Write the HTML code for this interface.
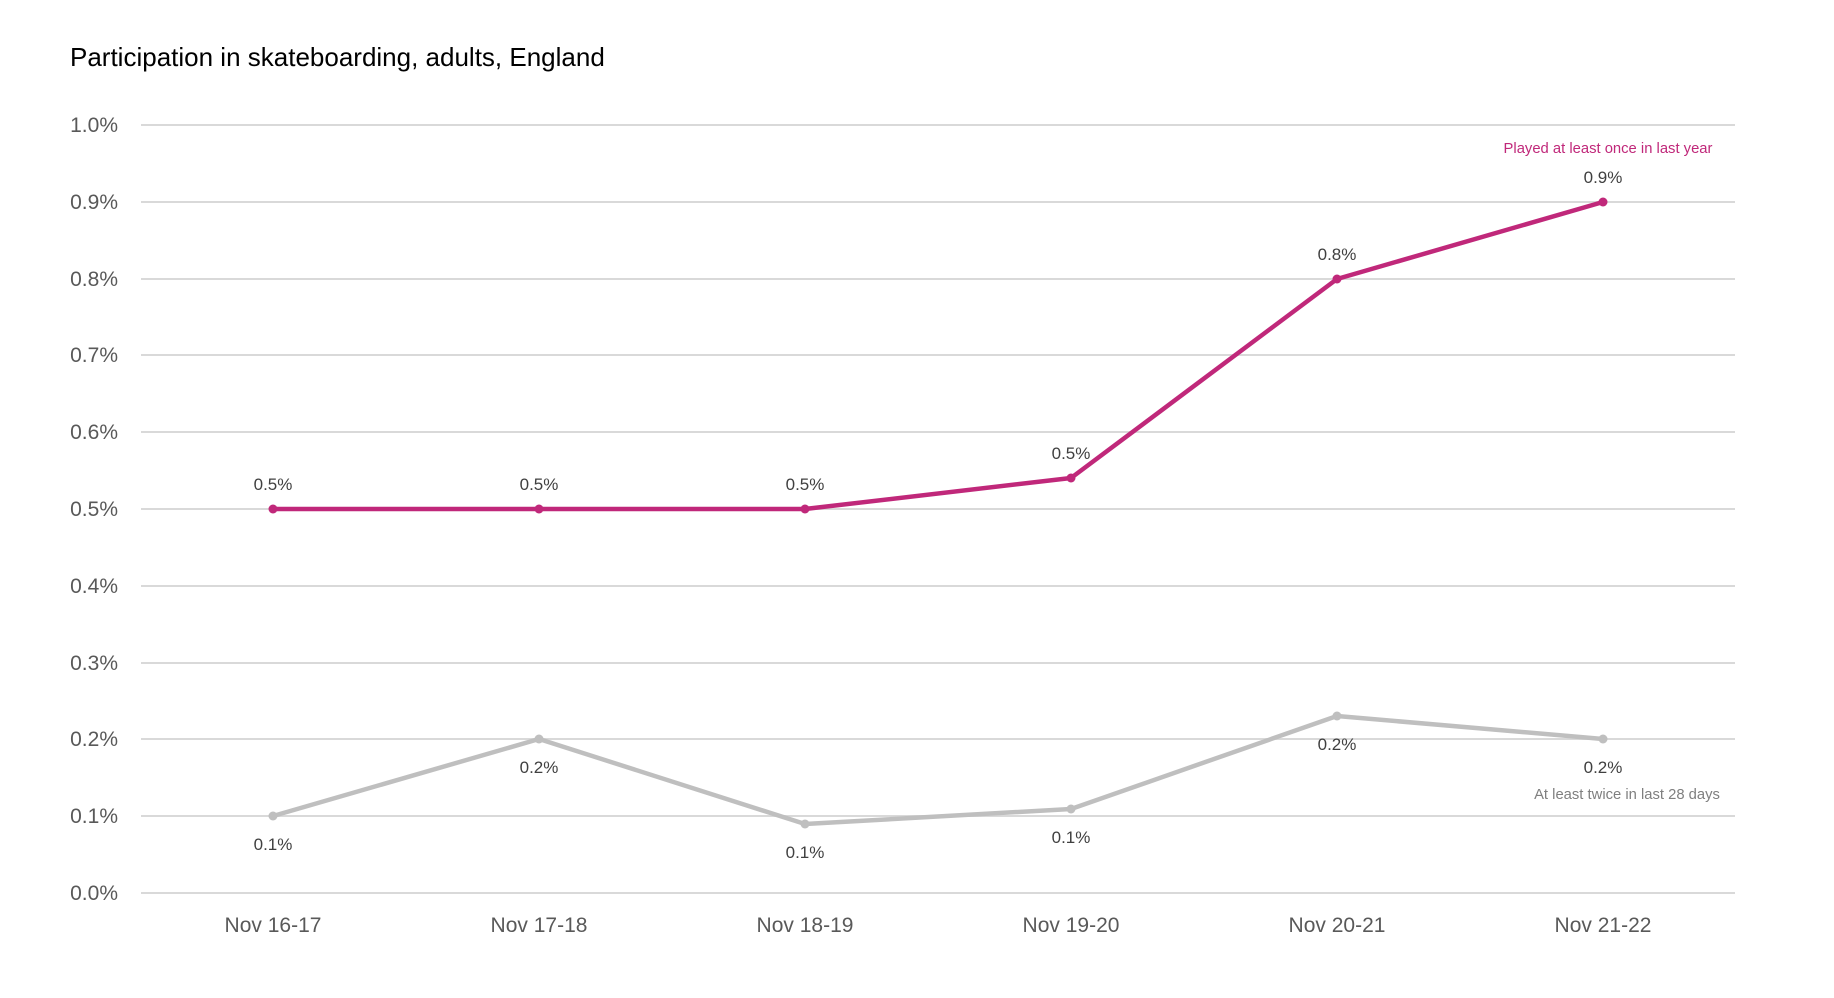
<!DOCTYPE html>
<html><head><meta charset="utf-8"><style>
body{margin:0;background:#fff;}
svg{display:block;font-family:"Liberation Sans",sans-serif;}
</style></head><body>
<svg width="1834" height="998" viewBox="0 0 1834 998" xmlns="http://www.w3.org/2000/svg">
<rect width="1834" height="998" fill="#fff"/>
<text x="70" y="66" font-size="26" fill="#000">Participation in skateboarding, adults, England</text>
<g stroke="#d9d9d9" stroke-width="2">
<line x1="141" x2="1735" y1="125" y2="125"/>
<line x1="141" x2="1735" y1="202" y2="202"/>
<line x1="141" x2="1735" y1="279" y2="279"/>
<line x1="141" x2="1735" y1="355" y2="355"/>
<line x1="141" x2="1735" y1="432" y2="432"/>
<line x1="141" x2="1735" y1="509" y2="509"/>
<line x1="141" x2="1735" y1="586" y2="586"/>
<line x1="141" x2="1735" y1="663" y2="663"/>
<line x1="141" x2="1735" y1="739" y2="739"/>
<line x1="141" x2="1735" y1="816" y2="816"/>
<line x1="141" x2="1735" y1="893" y2="893"/>
</g>
<g font-size="21" fill="#595959" text-anchor="end">
<text x="118" y="132">1.0%</text>
<text x="118" y="209">0.9%</text>
<text x="118" y="286">0.8%</text>
<text x="118" y="362">0.7%</text>
<text x="118" y="439">0.6%</text>
<text x="118" y="516">0.5%</text>
<text x="118" y="593">0.4%</text>
<text x="118" y="670">0.3%</text>
<text x="118" y="746">0.2%</text>
<text x="118" y="823">0.1%</text>
<text x="118" y="900">0.0%</text>
</g>
<g font-size="21" fill="#595959" text-anchor="middle">
<text x="273" y="932">Nov 16-17</text>
<text x="539" y="932">Nov 17-18</text>
<text x="805" y="932">Nov 18-19</text>
<text x="1071" y="932">Nov 19-20</text>
<text x="1337" y="932">Nov 20-21</text>
<text x="1603" y="932">Nov 21-22</text>
</g>
<polyline fill="none" stroke="#bfbfbf" stroke-width="4.5" stroke-linejoin="round" points="273,816 539,739 805,824 1071,809 1337,716 1603,739"/>
<g fill="#bfbfbf">
<circle cx="273" cy="816" r="4.5"/><circle cx="539" cy="739" r="4.5"/><circle cx="805" cy="824" r="4.5"/>
<circle cx="1071" cy="809" r="4.5"/><circle cx="1337" cy="716" r="4.5"/><circle cx="1603" cy="739" r="4.5"/>
</g>
<polyline fill="none" stroke="#c0287a" stroke-width="4.5" stroke-linejoin="round" points="273,509 539,509 805,509 1071,478 1337,279 1603,202"/>
<g fill="#c0287a">
<circle cx="273" cy="509" r="4.5"/><circle cx="539" cy="509" r="4.5"/><circle cx="805" cy="509" r="4.5"/>
<circle cx="1071" cy="478" r="4.5"/><circle cx="1337" cy="279" r="4.5"/><circle cx="1603" cy="202" r="4.5"/>
</g>
<g font-size="17" fill="#404040" text-anchor="middle">
<text x="273" y="490">0.5%</text>
<text x="539" y="490">0.5%</text>
<text x="805" y="490">0.5%</text>
<text x="1071" y="459">0.5%</text>
<text x="1337" y="260">0.8%</text>
<text x="1603" y="183">0.9%</text>
<text x="273" y="850">0.1%</text>
<text x="539" y="773">0.2%</text>
<text x="805" y="858">0.1%</text>
<text x="1071" y="843">0.1%</text>
<text x="1337" y="750">0.2%</text>
<text x="1603" y="773">0.2%</text>
</g>
<text x="1608" y="153" font-size="14.8" fill="#c0287a" text-anchor="middle">Played at least once in last year</text>
<text x="1627" y="799" font-size="14.8" fill="#7f7f7f" text-anchor="middle">At least twice in last 28 days</text>
</svg>
</body></html>
